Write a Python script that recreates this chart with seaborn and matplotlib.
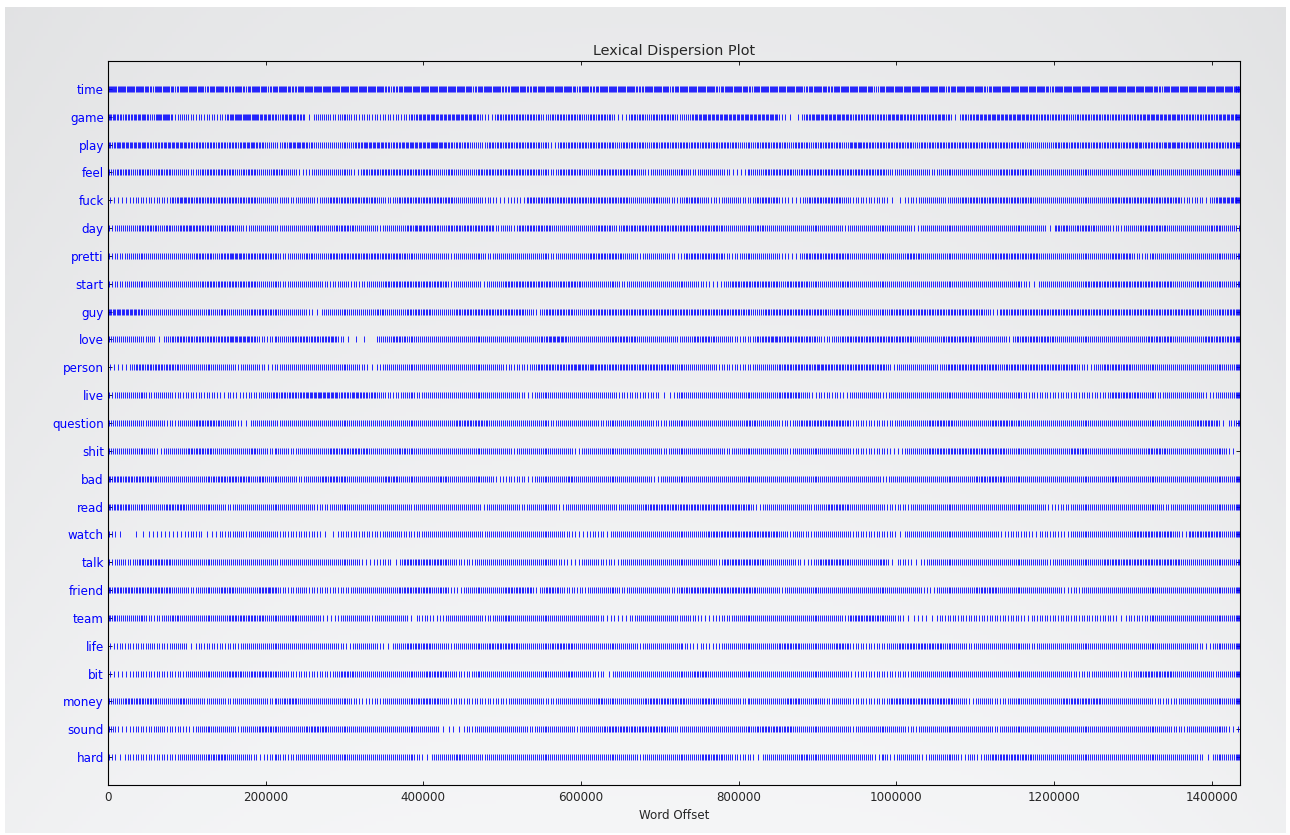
import numpy as np
import pandas as pd
import matplotlib
matplotlib.use("Agg")
import matplotlib.pyplot as plt
import seaborn as sns

# Words shown on the y axis, top to bottom
WORDS = ["time", "game", "play", "feel", "fuck", "day", "pretti", "start", "guy",
         "love", "person", "live", "question", "shit", "bad", "read", "watch",
         "talk", "friend", "team", "life", "bit", "money", "sound", "hard"]

# Corpus is split into bins of 10,000 words; each digit is the number of
# occurrences drawn in one bin. Every word has three stretches starting at
# bins 0, 44 and 94 (digits are grouped by ten for readability).
BIN_WORDS = 10000
X_MAX = 1436000
STRETCH_START = [0, 44, 94]

time_ = ("7777757757 7757757577 5775777777 7777755777 7777",
         "7757775775 7777757577 7775777577 7775777577 7777577577",
         "7774777777 7757777577 7777757777 7777777775 7777777777")
game = ("6556647734 3333367776 6466514434 4333333346 6666",
        "6663255555 5355554555 2255455534 6666666666 6311566666",
        "5555566555 5651556666 6665555545 5555555666 6655555666")
play = ("5666655666 5555555665 4356654444 4566655666 6765",
        "5543555555 5425555555 4555455555 5555554455 5545545554",
        "6655555545 5555555555 5544445555 5555556555 6655555556")
feel = ("4554545544 3455554554 4544234444 4255555555 5445",
        "4445555555 5435554455 5554344444 3444322445 5554555555",
        "5555534444 3444444445 5554444444 4444444444 4444444445")
fuck = ("2223333356 5555555554 4343443455 5555434555 5555",
        "4443322325 5555555555 5544454335 5433443355 5322455554",
        "3333311334 4434555555 5554444444 4445555555 5533325666")
day = ("3444554545 6554554344 4344445445 5444344456 5545",
       "5555534355 5544444455 3555555555 5555444454 4444444443",
       "4444444424 4444444444 4444415545 5443344555 4444445442")
pretti = ("3344444444 4554566555 5434454455 5555555544 4443",
          "4444344444 4434444555 5443444325 5555334444 4322555555",
          "4444444554 4444444455 5555444444 4445553344 4444444443")
start = ("3344444444 4455555554 4434444334 3334455555 5553",
         "4442445555 5545554444 4344444444 4322455555 5455544445",
         "4444444444 4444444444 4431444444 5555555555 5444544443")
guy = ("6666444444 4444544455 5444431444 4444544455 5444",
       "5555555554 2555544555 5555555555 5555555445 5555555455",
       "4444455555 5555555425 5555555555 5555555555 5555544555")
love = ("4444341455 5555566653 3445555563 1110445544 4444",
        "4444444444 4566444444 5554444434 5554433355 6555553345",
        "5555555544 4455554444 2555554444 4444444455 5444455555")
person = ("2225555554 4444443443 2344444444 4431344444 4444",
          "4444443333 5555565655 5555555544 4443333344 4555556555",
          "5555524444 4355555554 5555555553 2455554444 4444444444")
live = ("3444434433 3333232334 4555566665 5655433443 4444",
        "4444444432 4444444444 3333331244 4444444444 4555423332",
        "4444244444 4444444444 4433333333 3335555443 4444423444")
question = ("4444344334 4555443144 4344444444 4444444444 4444",
            "5555444444 4434444434 4444433444 4444444544 4334555555",
            "3333334444 5554444455 5444444444 4444444444 4444555133")
shit = ("4444442444 5554444454 3443444455 5554444544 4444",
        "4444444344 4444424444 4444443444 4444344444 4434444444",
        "3333322444 5555555555 4444444455 4444444455 4444444420")
bad = ("5555554444 4445555545 4444344555 4444455444 4454",
       "4444423332 4444544444 4444424444 4444444444 4444444444",
       "4444244444 4444445555 4444444444 4445444444 4444444444")
read = ("5554444555 4444434444 4444443344 4444444434 4444",
        "4442444434 4442444444 3444555555 5555555424 4444434555",
        "4444333344 4444444444 4444423344 4444444444 3444444444")
watch = ("3101122222 3312334344 4333333113 3333344333 4444",
         "4443444444 4444322332 4444444444 4455555555 5434334444",
         "3333331444 4444444442 3332333244 4444445555 5425555444")
talk = ("3434555544 4444444444 4344444444 4422331555 5554",
        "3334444444 4443224433 2444444444 4443555554 4443235555",
        "4444513313 4444444444 4444434444 4455555555 5544444443")
friend = ("5555555544 3444554445 6433433333 3444444555 5453",
          "2444445555 2554333444 4344444345 5555555544 4344444444",
          "4444444443 2444445554 4444444233 4444444444 4444444444")
team = ("5444433454 4444455555 4445444223 4443444413 3234",
        "4443345444 4444444432 2234444434 3223344444 4444444443",
        "5555443122 1333333333 3323333333 3333133344 4444444445")
life = ("2333343344 1333333444 4444444443 2444314455 5443",
        "4444555544 4455544444 4443444443 2323444444 4555444455",
        "3333345555 5544434444 4443444444 4444444444 4444324445")
bit = ("2223333333 4444455455 5443333335 5444444444 5554",
       "3344444444 4444544331 4444444444 5544444444 4444444444",
       "2333333344 4444444444 4444444433 3444334555 5444443444")
money = ("4455554445 4434434444 3455444444 4323344445 5543",
         "3333333444 4334444454 4444555554 4554443444 4455444344",
         "3333355555 5554424433 4444444555 5544444433 3344444444")
sound = ("4223334333 2444443445 5444455544 4444444444 4412",
         "1334444443 4444434445 5555555434 4444444455 5554444444",
         "3444444334 4444444434 4444444444 4444444444 4334444421")
hard = ("3133333334 4445544432 3433444444 4444444443 1444",
        "5443444444 4444444444 4443444444 4555433314 4444544444",
        "4442424442 4444242455 5554444444 4444444444 4444314444")

DENSITY = [time_, game, play, feel, fuck, day, pretti, start, guy, love, person,
           live, question, shit, bad, read, watch, talk, friend, team, life, bit,
           money, sound, hard]

# Expand bin counts into word offsets (evenly spread within each bin)
records = []
n_words = len(WORDS)
for rank, (word, stretches) in enumerate(zip(WORDS, DENSITY)):
    row = n_words - 1 - rank
    for first_bin, digits in zip(STRETCH_START, stretches):
        for k, ch in enumerate(digits.replace(" ", "")):
            n = int(ch)
            lo = (first_bin + k) * BIN_WORDS
            if n == 0 or lo >= X_MAX:
                continue
            hi = min(lo + BIN_WORDS, X_MAX)
            for i in range(n):
                records.append((lo + (i + 0.5) * (hi - lo) / n, row, word))
df = pd.DataFrame(records, columns=["offset", "row", "word"])

sns.set_theme(style="ticks")
plt.rcParams.update({
    "font.family": ["DejaVu Sans"],
    "xtick.direction": "in",
    "ytick.direction": "in",
    "xtick.top": True,
    "ytick.right": True,
    "axes.linewidth": 0.8,
})

W, H, DPI = 1290, 835, 100
fig = plt.figure(figsize=(W / DPI, H / DPI), dpi=DPI, facecolor="white")

# soft grey window backdrop
bg = fig.add_axes([5 / W, 2 / H, 1281 / W, 826 / H], zorder=-10)
bg.axis("off")
gy, gx = np.mgrid[0:200, 0:300]
fx = gx / 299.0
fy = gy / 199.0
edge = np.abs(fx - 0.5) * 2
shade = 234 + 12 * fy - 5 * edge ** 3 - 2 * (1 - fy) * edge ** 2
shade = np.clip(shade, 0, 255) / 255.0
rgb = np.dstack([shade - 0.005, shade - 0.002, shade + 0.003])
bg.imshow(np.clip(rgb, 0, 1), aspect="auto", extent=[0, 1, 0, 1], origin="upper")

ax = fig.add_axes([108 / W, 1 - 785 / H, 1132 / W, 724 / H])
ax.set_facecolor("none")

blue = (0, 0, 1)
sns.scatterplot(data=df, x="offset", y="row", marker="|", color=blue,
                edgecolor=blue, s=25, linewidth=0.6, legend=False, ax=ax)

ax.set_xlim(0, X_MAX)
ax.set_ylim(-1, n_words)
ax.set_xticks(np.arange(0, 1400001, 200000))
ax.set_xticklabels([str(v) for v in range(0, 1400001, 200000)])
ax.set_yticks(range(n_words))
ax.set_yticklabels(WORDS[::-1], color=blue)
ax.tick_params(axis="both", labelsize=8.6, length=3, width=0.6, color="black")
ax.tick_params(axis="x", pad=4)
ax.tick_params(axis="y", pad=3)
for sp in ax.spines.values():
    sp.set_visible(True)
    sp.set_color("black")

ax.set_xlabel("Word Offset", fontsize=8.6, labelpad=4)
ax.set_ylabel("")
ax.set_title("Lexical Dispersion Plot", fontsize=10.4, pad=4)

fig.savefig("out.png", dpi=DPI, facecolor=fig.get_facecolor())
